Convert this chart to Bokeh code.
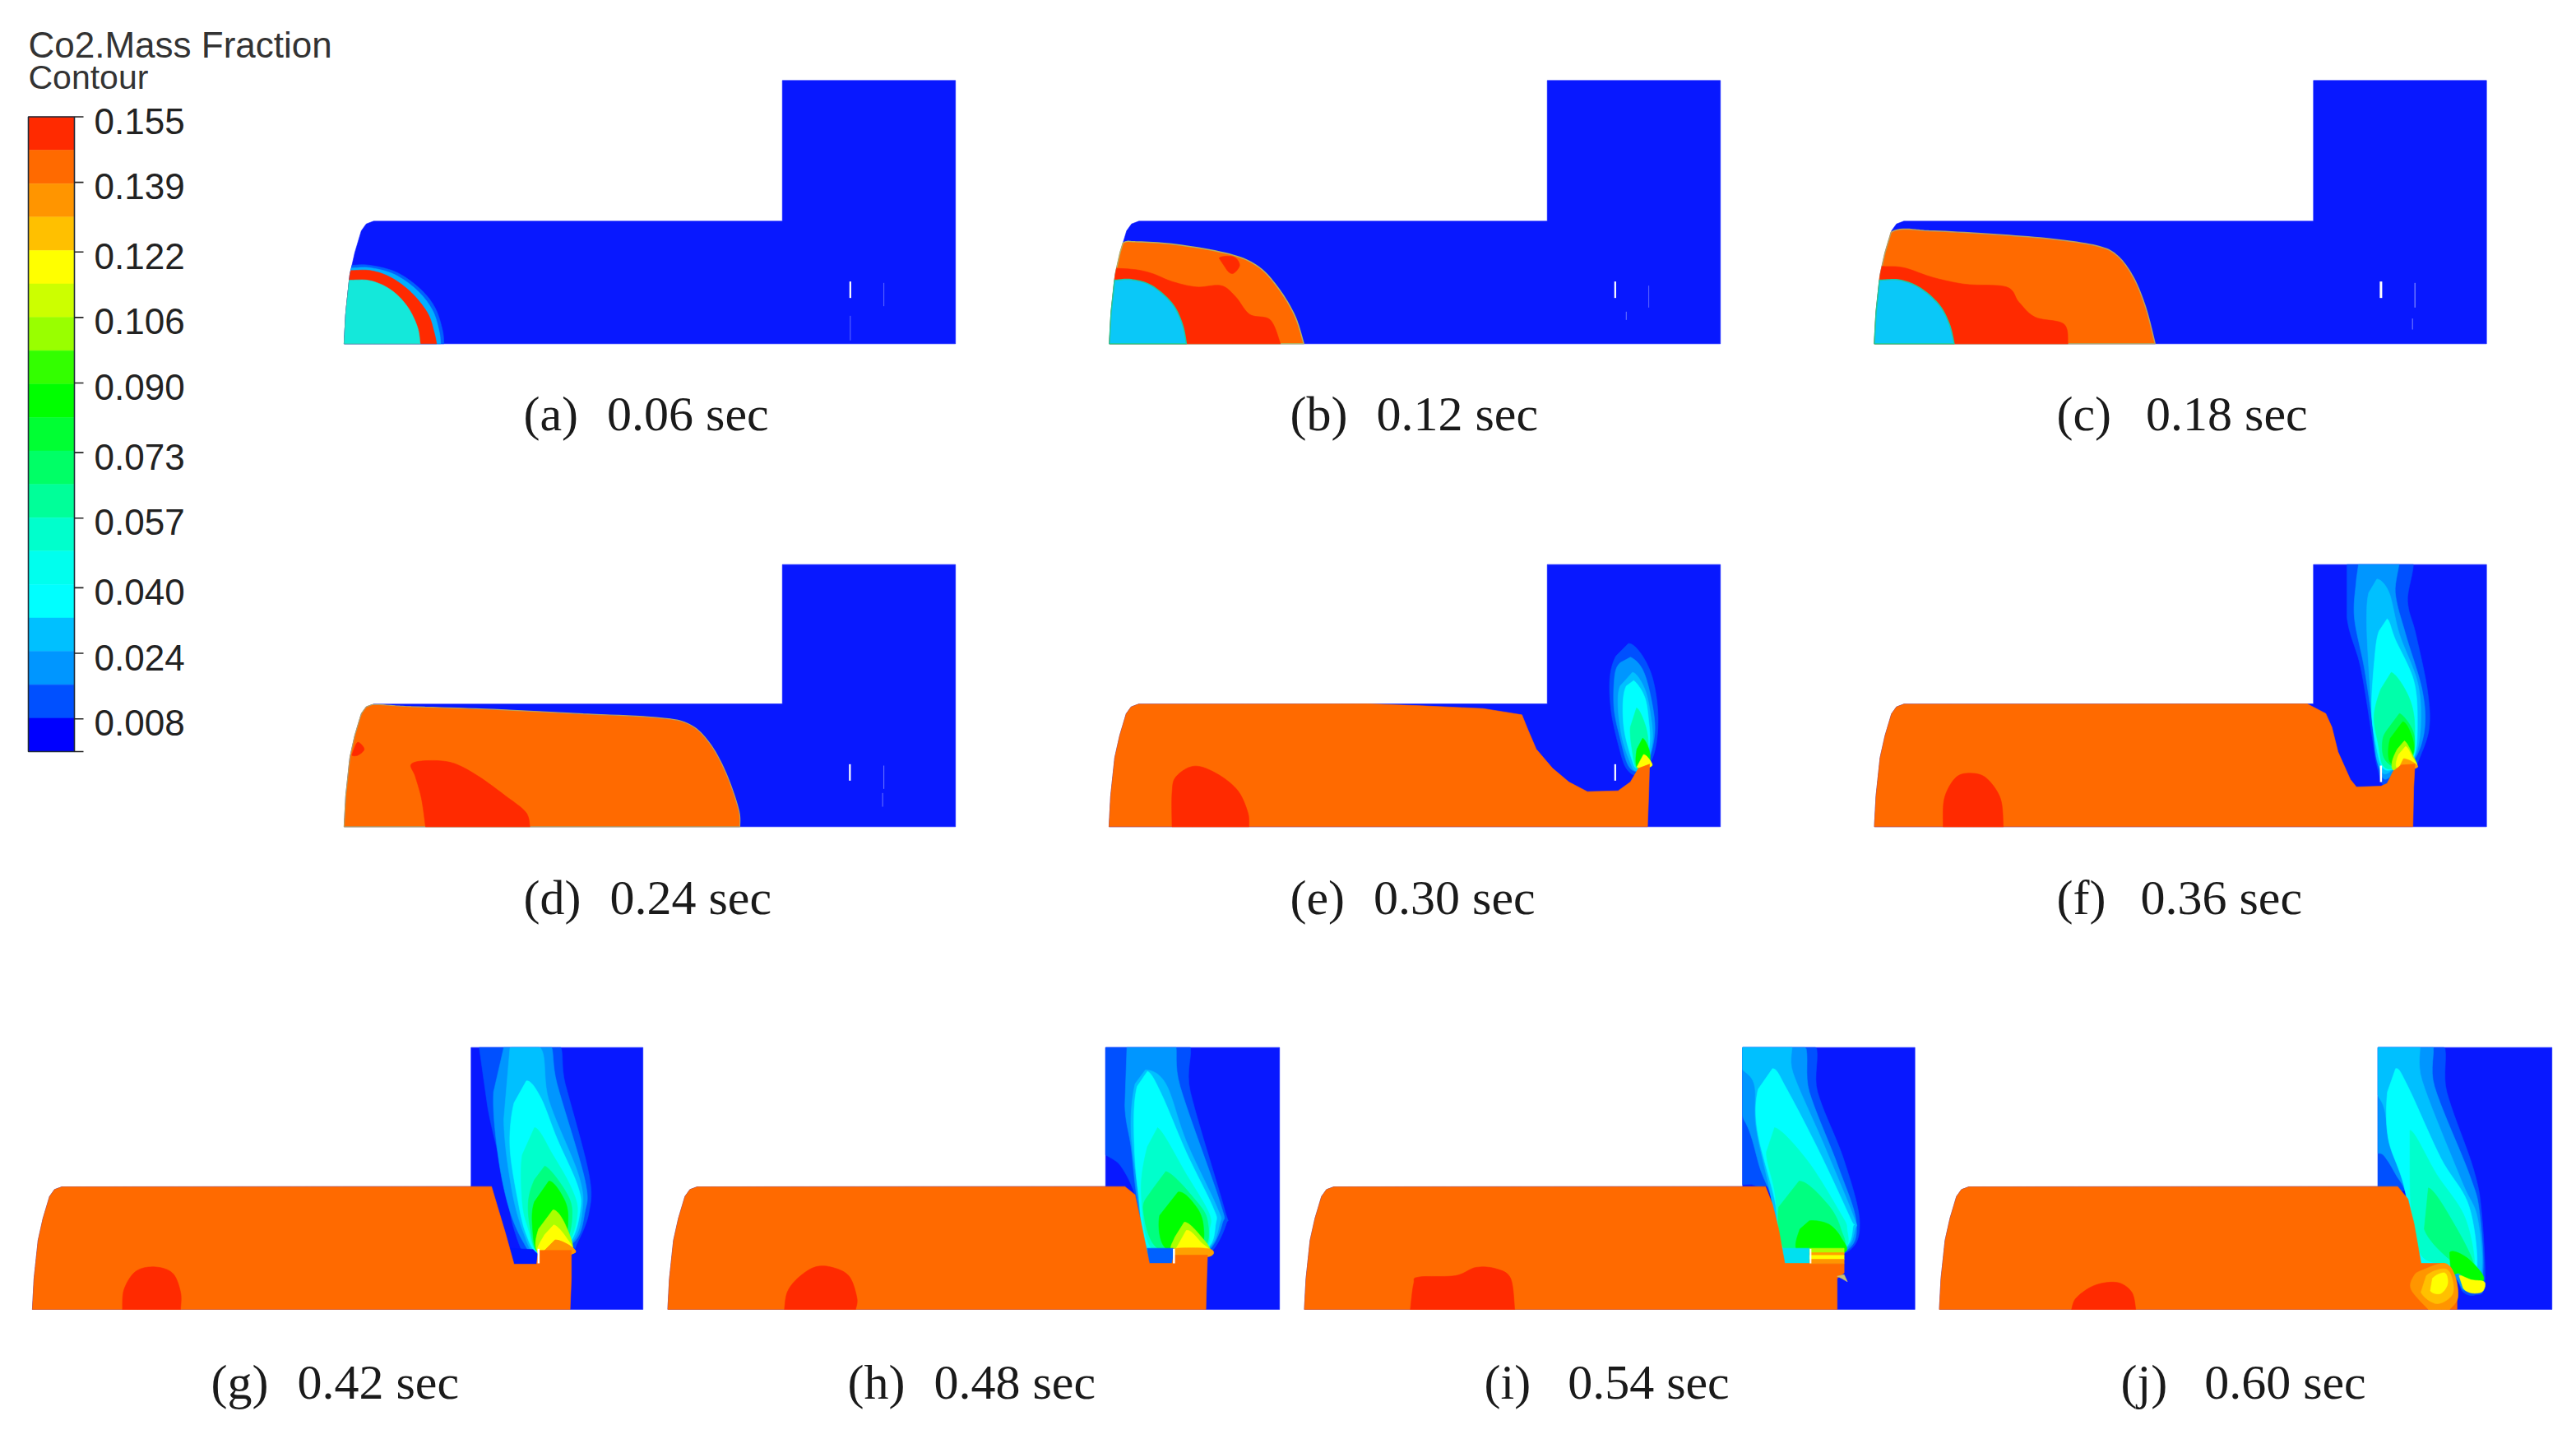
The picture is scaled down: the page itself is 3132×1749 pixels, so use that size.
import numpy as np
from bokeh.plotting import figure
from bokeh.embed import file_html
from bokeh.resources import INLINE
from bokeh.core.properties import value

# ---------- legend ----------
TITLE_1 = "Co2.Mass Fraction"
TITLE_2 = "Contour"
TICK_LABELS = ["0.155", "0.139", "0.122", "0.106", "0.090", "0.073", "0.057", "0.040", "0.024", "0.008"]
TICK_VALUES = [0.155, 0.139, 0.122, 0.106, 0.090, 0.073, 0.057, 0.040, 0.024, 0.008]
BAND_COLORS = ["#ff2a00", "#ff6a00", "#ff9500", "#ffc000", "#ffff00", "#ccff00", "#99ff00", "#33ff00",
               "#00ff00", "#00ff33", "#00ff66", "#00ff99", "#00ffcc", "#00ffee", "#00ffff", "#00c0ff",
               "#0096ff", "#0050ff", "#0000ff"]

# ---------- captions ----------
NB = "\u00a0"
S1 = NB * 2 + "\u200a"
S2 = NB * 2 + "\u2009"
S3 = NB * 3
CAPTIONS = [f"(a){S1}0.06 sec", f"(b){S1}0.12 sec", f"(c){S2}0.18 sec", f"(d){S1}0.24 sec",
            f"(e){S1}0.30 sec", f"(f){S2}0.36 sec", f"(g){S1}0.42 sec", f"(h){S1}0.48 sec",
            f"(i){S3}0.54 sec", f"(j){S3}0.60 sec"]
CAPTION_X = [636, 1568, 2500, 636, 1568, 2500, 256, 1030, 1804, 2578]
CAPTION_Y = [502, 502, 502, 1090, 1090, 1090, 1679, 1679, 1679, 1679]

# ---------- panel frames (crop origin, left, step x, right, top, step y, bottom) ----------
ORIGIN = {"a": (400, 80), "b": (1330, 80), "c": (2270, 80), "d": (400, 670), "e": (1330, 670),
          "f": (2270, 670), "g": (20, 1260), "h": (800, 1260), "i": (1570, 1260), "j": (2350, 1260)}
FRAME = {"a": (36, 1107, 1530, 52, 565, 1012), "b": (37, 1107, 1530, 52, 565, 1012),
         "c": (17, 1090, 1513, 52, 565, 1012), "d": (36, 1107, 1530, 47, 555, 1003),
         "e": (36, 1107, 1530, 47, 555, 1003), "f": (17, 1090, 1513, 47, 555, 1003),
         "g": (38, 1110, 1530, 38, 545, 993), "h": (23, 1093, 1518, 38, 545, 993),
         "i": (31, 1102, 1523, 38, 545, 993), "j": (15, 1087, 1512, 38, 545, 993)}
WALL_DX = [0, 4, 14, 26, 42, 54, 72]
WALL_DY = [0, -112, -252, -332, -412, -437, -447]

# ---------- contour bands ----------
HALO_A = [(0, 735), (55, 726), (100, 726), (165, 752), (222, 812), (258, 880), (276, 960), (280, 1012), (0, 1012)]
HALO2_A = [(0, 738), (52, 736), (100, 735), (160, 760), (215, 818), (252, 890), (268, 965), (272, 1012), (0, 1012)]
RED_A = [(0, 745), (50, 745), (100, 745), (150, 770), (200, 825), (240, 900), (256, 970), (262, 1012), (0, 1012)]
CYAN_A = [(0, 780), (48, 780), (100, 782), (150, 815), (190, 875), (215, 950), (222, 1012), (0, 1012)]

ORANGE_B = [(68, 645), (100, 640), (200, 650), (330, 685), (400, 730), (450, 810), (490, 910), (512, 1012),
            (0, 1012), (0, 700)]
RED_B = [(0, 735), (90, 740), (140, 755), (190, 785), (250, 805), (310, 800), (345, 840), (380, 905),
         (430, 925), (455, 1012), (0, 1012)]
BLOB_B = [(305, 700), (340, 695), (355, 725), (340, 755), (325, 745)]
CYAN_B = [(0, 780), (48, 780), (90, 778), (140, 800), (190, 865), (215, 940), (225, 1012), (0, 1012)]

ORANGE_C = [(65, 600), (150, 600), (300, 612), (450, 630), (560, 655), (610, 690), (650, 770), (680, 880),
            (703, 1012), (0, 1012), (0, 680)]
RED_C = [(0, 730), (40, 730), (90, 735), (160, 770), (240, 795), (340, 805), (370, 860), (410, 915), (480, 940),
         (490, 1012), (0, 1012)]
CYAN_C = [(0, 780), (30, 780), (80, 780), (130, 810), (175, 870), (200, 940), (212, 1012), (0, 1012)]

ORANGE_D = [(100, 558), (200, 565), (400, 575), (600, 590), (800, 605), (880, 630), (930, 700), (970, 810),
            (1000, 940), (1003, 1003), (0, 1003), (0, 700), (60, 580)]
RED_D = [(200, 775), (240, 762), (300, 770), (360, 815), (430, 890), (480, 950), (490, 1003), (235, 1003),
         (225, 900), (210, 820)]
BLOB_D = [(60, 720), (70, 695), (85, 720), (70, 742), (55, 742)]

ORANGE_E = [(670, 555), (800, 562), (950, 572), (1045, 595),
            (1060, 650), (1080, 720), (1120, 790), (1160, 840), (1205, 875), (1280, 872), (1310, 840), (1330, 790),
            (1357, 775), (1355, 880), (1352, 1003)]
RED_E = [(190, 1003), (190, 880), (200, 820), (245, 782), (300, 810), (350, 870), (375, 950), (378, 1003)]
PLUME_E = [("#0050ff", [(1305, 335), (1335, 370), (1362, 450), (1376, 560), (1376, 670), (1362, 760), (1330, 815), (1300, 790), (1280, 700), (1263, 580), (1260, 460), (1275, 380)]),
           ("#0096ff", [(1310, 385), (1340, 430), (1360, 530), (1370, 650), (1355, 760), (1330, 800), (1305, 780), (1285, 680), (1270, 570), (1272, 450), (1285, 405)]),
           ("#00c0ff", [(1315, 440), (1345, 500), (1360, 600), (1364, 690), (1350, 770), (1325, 800), (1310, 770), (1290, 680), (1280, 570), (1285, 490)]),
           ("#00ffff", [(1318, 470), (1345, 530), (1355, 620), (1357, 700), (1345, 770), (1325, 790), (1312, 750), (1295, 650), (1292, 550), (1300, 490)]),
           ("#00ffaa", [(1325, 570), (1348, 640), (1354, 720), (1345, 780), (1325, 790), (1315, 730), (1310, 640)]),
           ("#00ff00", [(1340, 680), (1357, 730), (1354, 785), (1326, 785), (1326, 720)]),
           ("#ffff00", [(1342, 740), (1362, 770), (1358, 785), (1326, 785)])]

ORANGE_F = [(1075, 555), (1120, 590), (1135, 640), (1150, 730),
            (1180, 830), (1195, 858), (1255, 855), (1270, 845), (1285, 800), (1305, 778), (1338, 775), (1335, 860), (1333, 1003)]
RED_F = [(185, 1003), (188, 900), (215, 825), (250, 808), (290, 825), (325, 900), (332, 1003)]
PLUME_F = [("#0050ff", [(1172, 0), (1325, 0), (1320, 180), (1340, 300), (1368, 500), (1373, 640), (1350, 750), (1330, 800), (1290, 800), (1265, 860), (1245, 780), (1232, 660), (1205, 420), (1172, 240)]),
           ("#0096ff", [(1200, 0), (1295, 0), (1290, 150), (1315, 300), (1355, 500), (1362, 640), (1340, 750), (1300, 790), (1265, 830), (1250, 780), (1238, 660), (1215, 430), (1190, 240), (1195, 100)]),
           ("#00c0ff", [(1245, 100), (1275, 150), (1300, 300), (1345, 480), (1352, 640), (1335, 755), (1290, 790), (1262, 810), (1245, 760), (1236, 650), (1225, 420), (1220, 250), (1225, 150)]),
           ("#00ffff", [(1270, 245), (1290, 320), (1335, 470), (1344, 620), (1335, 750), (1290, 790), (1260, 790), (1245, 720), (1232, 580), (1240, 380), (1250, 290)]),
           ("#00ffaa", [(1280, 440), (1320, 520), (1337, 620), (1330, 750), (1290, 790), (1260, 780), (1248, 700), (1238, 600), (1255, 500)]),
           ("#00ff55", [(1300, 590), (1332, 650), (1337, 720), (1325, 760), (1290, 785), (1262, 750), (1260, 680), (1280, 630)]),
           ("#00ff00", [(1308, 620), (1332, 680), (1332, 740), (1300, 780), (1275, 760), (1278, 680)]),
           ("#aaff00", [(1312, 690), (1332, 740), (1340, 785), (1290, 800), (1282, 770), (1295, 720)]),
           ("#ffff00", [(1315, 710), (1332, 750), (1342, 785), (1295, 790), (1298, 740)]),
           ("#ffa000", [(1310, 755), (1345, 785), (1295, 800)])]

ORANGE_G = [(1160, 545), (1175, 620), (1195, 720), (1215, 828),
            (1270, 828), (1275, 778), (1355, 778), (1355, 880), (1352, 993)]
RED_G = [(258, 993), (262, 920), (290, 855), (335, 838), (380, 860), (400, 930), (400, 993)]
PLUME_G = [("#0050ff", [(1130, 0), (1310, 0), (1340, 170), (1398, 500), (1398, 640), (1370, 750), (1350, 790), (1275, 800), (1240, 790), (1215, 700), (1200, 600), (1180, 450), (1150, 250)]),
           ("#0096ff", [(1190, 0), (1295, 0), (1320, 170), (1388, 520), (1388, 640), (1360, 750), (1270, 790), (1235, 740), (1200, 610), (1175, 420), (1165, 200)]),
           ("#00c0ff", [(1205, 40), (1280, 40), (1300, 230), (1372, 500), (1382, 630), (1355, 750), (1270, 785), (1240, 720), (1210, 560), (1190, 300)]),
           ("#00ffff", [(1245, 160), (1280, 220), (1320, 370), (1370, 540), (1377, 630), (1350, 750), (1275, 785), (1245, 720), (1225, 600), (1205, 400), (1215, 240)]),
           ("#00ffcc", [(1265, 330), (1310, 430), (1355, 550), (1370, 640), (1345, 755), (1275, 785), (1250, 700), (1235, 600), (1235, 430)]),
           ("#00ff80", [(1290, 470), (1340, 560), (1357, 640), (1340, 750), (1275, 785), (1255, 700), (1250, 600), (1265, 520)]),
           ("#00ff00", [(1300, 525), (1337, 590), (1347, 660), (1335, 745), (1275, 785), (1260, 690), (1265, 600)]),
           ("#aaff00", [(1310, 630), (1342, 690), (1355, 785), (1275, 785), (1275, 700)]),
           ("#ffff00", [(1312, 685), (1342, 730), (1358, 790), (1275, 790), (1290, 720)]),
           ("#ff9500", [(1315, 740), (1365, 785), (1275, 800)])]
NOTCH_G = [(1205, 770), (1262, 775), (1277, 800), (1277, 835), (1215, 835)]
NOTCH_COLOR_G = "#0018ff"

ORANGE_H = [(1140, 545), (1165, 575), (1180, 680), (1200, 825),
            (1255, 825), (1260, 795), (1342, 795), (1340, 880), (1338, 993)]
RED_H = [(308, 993), (315, 930), (340, 880), (380, 840), (420, 838), (465, 870), (485, 950), (482, 993)]
PLUME_H = [("#0050ff", [(1060, 0), (1282, 0), (1300, 200), (1382, 620), (1388, 680), (1345, 790), (1260, 810), (1200, 810), (1170, 600), (1130, 470), (1060, 360)]),
           ("#0096ff", [(1145, 0), (1255, 0), (1275, 180), (1372, 600), (1378, 680), (1340, 785), (1260, 810), (1200, 810), (1170, 590), (1155, 400), (1140, 250)]),
           ("#00c0ff", [(1190, 120), (1240, 170), (1290, 380), (1365, 620), (1372, 680), (1335, 780), (1205, 800), (1175, 580), (1155, 340), (1165, 170)]),
           ("#00ffff", [(1195, 125), (1230, 210), (1290, 420), (1355, 620), (1362, 680), (1335, 775), (1205, 790), (1172, 560), (1162, 320), (1170, 180)]),
           ("#00ffcc", [(1220, 330), (1290, 500), (1345, 640), (1347, 700), (1330, 775), (1210, 780), (1180, 570), (1195, 400)]),
           ("#00ff80", [(1240, 490), (1310, 590), (1342, 670), (1330, 770), (1220, 770), (1185, 630), (1205, 560)]),
           ("#00ff00", [(1270, 565), (1315, 620), (1332, 690), (1322, 760), (1240, 770), (1225, 650)]),
           ("#aaff00", [(1285, 675), (1322, 720), (1346, 785), (1258, 785), (1262, 730)]),
           ("#ffff00", [(1290, 705), (1327, 750), (1346, 785), (1260, 785)]),
           ("#ffa000", [(1258, 772), (1346, 772), (1346, 800), (1258, 800)])]
NOTCH_H = [(1195, 770), (1258, 770), (1258, 830), (1200, 830)]
NOTCH_COLOR_H = "#0060ff"

ORANGE_I = [(1158, 545), (1175, 610), (1190, 700), (1205, 825),
            (1350, 825), (1350, 860), (1333, 880), (1333, 993)]
RED_I = [(290, 993), (298, 900), (310, 875), (400, 870), (450, 840), (500, 845), (535, 880), (545, 993)]
PLUME_I = [("#0050ff", [(1060, 0), (1265, 0), (1285, 200), (1350, 450), (1388, 680), (1350, 790), (1205, 830), (1175, 570), (1130, 540), (1060, 480)]),
           ("#0096ff", [(1060, 0), (1240, 0), (1265, 200), (1335, 470), (1380, 680), (1348, 785), (1205, 825), (1175, 600), (1145, 480), (1115, 330), (1060, 180)]),
           ("#00c0ff", [(1060, 0), (1210, 0), (1225, 130), (1300, 390), (1372, 650), (1377, 700), (1345, 780), (1205, 825), (1170, 570), (1135, 330), (1130, 170), (1090, 100)]),
           ("#00ffff", [(1175, 115), (1210, 190), (1290, 420), (1365, 660), (1372, 690), (1345, 775), (1210, 810), (1180, 590), (1138, 340), (1140, 190)]),
           ("#00ffcc", [(1180, 330), (1260, 450), (1340, 640), (1357, 700), (1345, 775), (1210, 800), (1180, 560), (1160, 420)]),
           ("#00ff80", [(1240, 525), (1310, 610), (1342, 700), (1342, 775), (1215, 795), (1190, 620)]),
           ("#00ff00", [(1265, 670), (1312, 682), (1342, 730), (1350, 785), (1240, 785), (1242, 700)])]
BARS_I = [("#aaff00", [(1266, 770), (1350, 770), (1350, 788), (1266, 788)]),
          ("#ffa000", [(1266, 786), (1350, 786), (1350, 798), (1266, 798)]),
          ("#ffff00", [(1266, 796), (1350, 796), (1350, 812), (1266, 812)]),
          ("#ff9500", [(1266, 810), (1350, 810), (1350, 826), (1266, 826)]),
          ("#c8c070", [(1333, 872), (1350, 866), (1358, 892), (1344, 880)])]
NOTCH_I = [(1200, 770), (1266, 770), (1266, 828), (1205, 828)]
NOTCH_COLOR_I = "#00e0f0"

ORANGE_J = [(1135, 545), (1160, 590), (1175, 680), (1192, 825),
            (1250, 825), (1265, 860), (1280, 930), (1280, 993)]
RED_J = [(338, 993), (350, 950), (395, 905), (450, 895), (485, 930), (495, 993)]
PLUME_J = [("#0050ff", [(1060, 440), (1060, 0), (1235, 0), (1255, 200), (1320, 480), (1340, 640), (1348, 900), (1325, 940), (1295, 930), (1270, 870), (1192, 835), (1160, 590), (1135, 560), (1060, 560)]),
           ("#0096ff", [(1060, 0), (1210, 0), (1225, 180), (1310, 500), (1335, 640), (1342, 880), (1300, 925), (1270, 870), (1192, 835), (1160, 590), (1130, 500), (1100, 430), (1060, 380)]),
           ("#00c0ff", [(1060, 0), (1180, 0), (1195, 160), (1290, 520), (1330, 660), (1337, 870), (1270, 860), (1192, 835), (1155, 560), (1115, 380), (1100, 250), (1060, 150)]),
           ("#00ffff", [(1130, 115), (1160, 180), (1240, 440), (1310, 620), (1327, 860), (1270, 850), (1192, 825), (1150, 540), (1112, 370), (1110, 200)]),
           ("#00ffcc", [(1165, 340), (1230, 500), (1300, 660), (1322, 850), (1270, 830), (1195, 800), (1170, 640), (1165, 520)]),
           ("#00ff80", [(1210, 550), (1280, 700), (1322, 840), (1270, 820), (1200, 700)])]
TAIL_J = [("#00ff00", [(1262, 785), (1300, 800), (1340, 860), (1342, 892), (1310, 897), (1285, 862), (1265, 865)]),
          ("#ffff00", [(1285, 870), (1315, 885), (1347, 893), (1342, 928), (1315, 933), (1295, 915)])]
BURST_J = [("#ff9500", [(1195, 850), (1250, 825), (1275, 870), (1282, 950), (1262, 993), (1210, 993), (1168, 920), (1175, 870)]),
           ("#ffc000", [(1205, 870), (1250, 845), (1268, 880), (1268, 940), (1230, 972), (1192, 930)]),
           ("#ffff00", [(1220, 880), (1250, 860), (1257, 900), (1240, 935), (1215, 925)])]

SLITS = {"a": [(1273, 785, 845, 2.2), (1355, 790, 875, 0.6), (1273, 910, 1000, 0.6)],
         "b": [(1273, 785, 845, 2.2), (1300, 895, 925, 0.7), (1355, 800, 880, 0.6)],
         "c": [(1255, 785, 845, 3.0), (1338, 790, 880, 1.0), (1332, 920, 960, 0.8)],
         "d": [(1272, 775, 835, 2.2), (1355, 780, 865, 0.7), (1352, 880, 930, 0.7)],
         "e": [(1273, 775, 835, 2.2)],
         "f": [(1255, 780, 840, 2.5)],
         "g": [(1275, 772, 825, 2.5)],
         "h": [(1260, 772, 825, 2.5)],
         "i": [(1268, 772, 825, 2.0)],
         "j": []}

BLUE = "#0818ff"
ORANGE = "#ff6a00"
RED = "#ff2a00"
CYAN_1 = "#14e8da"
CYAN_2 = "#0ac8f8"

# ---------- drawing ----------
p = figure(width=3116, height=1733, x_range=(0, 3116), y_range=(1733, 0),
           output_backend="svg", toolbar_location=None, min_border=0,
           background_fill_color="white", border_fill_color="white")
p.axis.visible = False
p.grid.visible = False
p.outline_line_color = None


def catmull_chain(chain, steps=10):
    """Curve through the given points, open at its two ends."""
    a = np.asarray(chain, float)
    a = np.vstack([a[0], a, a[-1]])
    t = np.linspace(0, 1, steps, endpoint=False)[:, None]
    out = []
    for i in range(1, len(a) - 2):
        p0, p1, p2, p3 = a[i - 1], a[i], a[i + 1], a[i + 2]
        out.append(0.5 * (2 * p1 + (p2 - p0) * t + (2 * p0 - 5 * p1 + 4 * p2 - p3) * t ** 2
                          + (3 * p1 - p0 - 3 * p2 + p3) * t ** 3))
    return np.vstack(out + [a[-1:]])


def smooth_closed(pts, corner):
    """Closed curve through pts; points flagged in corner stay sharp."""
    a = np.asarray(pts, float)
    idx = [i for i, c in enumerate(corner) if c]
    if not idx:
        return catmull_chain(np.vstack([a[-2:], a, a[:2]]))[20:-20]
    a = np.roll(a, -idx[0], axis=0)
    corner = np.roll(np.asarray(corner), -idx[0])
    a = np.vstack([a, a[:1]])
    corner = list(corner) + [True]
    out, start = [], 0
    for i in range(1, len(a)):
        if corner[i]:
            out.append(catmull_chain(a[start:i + 1]))
            start = i
    return np.vstack(out)


def wall_pts(key):
    left, step_x, right, top, step_y, bottom = FRAME[key]
    return [(left + dx, bottom + dy) for dx, dy in zip(WALL_DX, WALL_DY)]


def clip_wall(key, a):
    left, step_x, right, top, step_y, bottom = FRAME[key]
    w = np.asarray(wall_pts(key), float)
    wall_x = np.interp(a[:, 1], w[::-1, 1], w[::-1, 0])
    a = a.copy()
    a[:, 0] = np.maximum(a[:, 0], np.where(a[:, 1] < step_y, step_x, wall_x))
    a[:, 1] = np.clip(a[:, 1], top, bottom)
    return a


def place(key, pts):
    cx, cy = ORIGIN[key]
    a = np.asarray(pts, float)
    return cx + a[:, 0] / 2.01, cy + a[:, 1] / 3.0


def fill(key, pts, color, smooth=False, line=None, lw=0.0):
    bottom = FRAME[key][5]
    if smooth:
        a = np.asarray(pts, float)
        corner = [(x == 0 or y >= bottom) for x, y in a]
        a = clip_wall(key, smooth_closed(a, corner))
    else:
        a = np.asarray(pts, float)
    x, y = place(key, a)
    p.patch(x, y, fill_color=color, line_color=line or color, line_width=lw if line else 0.6)


def plume(key, layers):
    left, step_x, right, top, step_y, bottom = FRAME[key]
    for color, pts in layers:
        a = smooth_closed(pts, [False] * len(pts))
        a[:, 0] = np.clip(a[:, 0], step_x, right)
        a[:, 1] = np.clip(a[:, 1], top, bottom)
        x, y = place(key, a)
        p.patch(x, y, fill_color=color, line_color=color, line_width=0.6)


def domain(key):
    left, step_x, right, top, step_y, bottom = FRAME[key]
    pts = wall_pts(key) + [(step_x, step_y), (step_x, top), (right, top), (right, bottom)]
    fill(key, pts, BLUE)


def orange(key, pts):
    fill(key, wall_pts(key) + list(pts), ORANGE)


def slits(key):
    for xd, y0, y1, w in SLITS[key]:
        x, y = place(key, [(xd, y0), (xd, y1)])
        p.line(x, y, line_color="white", line_width=w, line_alpha=1.0 if w > 1.5 else 0.6)


for k in ORIGIN:
    domain(k)

# (a)
fill("a", HALO_A, "#0060ff", True)
fill("a", HALO2_A, "#00b0ff", True)
fill("a", RED_A, RED, True)
fill("a", CYAN_A, CYAN_1, True)
# (b)
fill("b", ORANGE_B, ORANGE, True, "#b8b060", 1.5)
fill("b", RED_B, RED, True)
fill("b", BLOB_B, RED, True)
fill("b", CYAN_B, CYAN_2, True, "#20c8a0", 1.5)
# (c)
fill("c", ORANGE_C, ORANGE, True, "#b8a060", 1.5)
fill("c", RED_C, RED, True)
fill("c", CYAN_C, CYAN_2, True, "#20c8a0", 1.5)
# (d)
fill("d", ORANGE_D, ORANGE, True, "#b8a060", 1.2)
fill("d", RED_D, RED, True)
fill("d", BLOB_D, RED, True)
# (e)-(j)
plume("e", PLUME_E)
orange("e", ORANGE_E)
fill("e", RED_E, RED, True)
plume("f", PLUME_F)
orange("f", ORANGE_F)
fill("f", RED_F, RED, True)
plume("g", PLUME_G)
fill("g", NOTCH_G, NOTCH_COLOR_G)
plume("g", PLUME_G[-1:])
orange("g", ORANGE_G)
fill("g", RED_G, RED, True)
plume("h", PLUME_H)
fill("h", NOTCH_H, NOTCH_COLOR_H)
orange("h", ORANGE_H)
fill("h", RED_H, RED, True)
plume("i", PLUME_I)
fill("i", NOTCH_I, NOTCH_COLOR_I)
orange("i", ORANGE_I)
fill("i", RED_I, RED, True)
for c, pts in BARS_I:
    fill("i", pts, c)
plume("j", PLUME_J)
orange("j", ORANGE_J)
fill("j", RED_J, RED, True)
for c, pts in TAIL_J:
    fill("j", pts, c, True)
for c, pts in BURST_J:
    fill("j", pts, c, True)

for k in ORIGIN:
    slits(k)

# Colorbar: band edges come from the level values, mapped onto the bar.
BAR_TOP, BAR_BOTTOM = 141.5, 913.0
LEVEL_TOP, LEVEL_BOTTOM = 0.155, 0.0
def bar_y(v):
    return BAR_TOP + (LEVEL_TOP - np.asarray(v, float)) / (LEVEL_TOP - LEVEL_BOTTOM) * (BAR_BOTTOM - BAR_TOP)

edges = np.linspace(LEVEL_TOP, LEVEL_BOTTOM, len(BAND_COLORS) + 1)
p.quad(left=34, right=90, top=bar_y(edges[:-1]), bottom=bar_y(edges[1:]), fill_color=BAND_COLORS,
       line_color=BAND_COLORS, line_width=0.5)
p.quad(left=[34], right=[90], top=[BAR_TOP], bottom=[BAR_BOTTOM], fill_color=None, line_color="#1f2a38", line_width=1.6)
tick_y = bar_y(TICK_VALUES + [0.0])
p.segment(x0=90, x1=101, y0=tick_y, y1=tick_y, line_color="#222222", line_width=1.6)
p.text(x=114, y=bar_y(TICK_VALUES) + 5, text=TICK_LABELS, text_font=value("Liberation Sans"),
       text_font_size=value("44px"), text_color="#222222", text_align="left", text_baseline="middle")
p.text(x=[34], y=[54], text=[TITLE_1], text_font=value("Liberation Sans"), text_font_size=value("44px"),
       text_color="#333333", text_align="left", text_baseline="middle")
p.text(x=[34], y=[93], text=[TITLE_2], text_font=value("Liberation Sans"), text_font_size=value("41px"),
       text_color="#333333", text_align="left", text_baseline="middle")
p.text(x=CAPTION_X, y=CAPTION_Y, text=CAPTIONS, text_font=value("Liberation Serif"),
       text_font_size=value("60px"), text_color="#1a1a1a", text_align="left", text_baseline="middle")

open("out.html", "w").write(file_html(p, INLINE))
